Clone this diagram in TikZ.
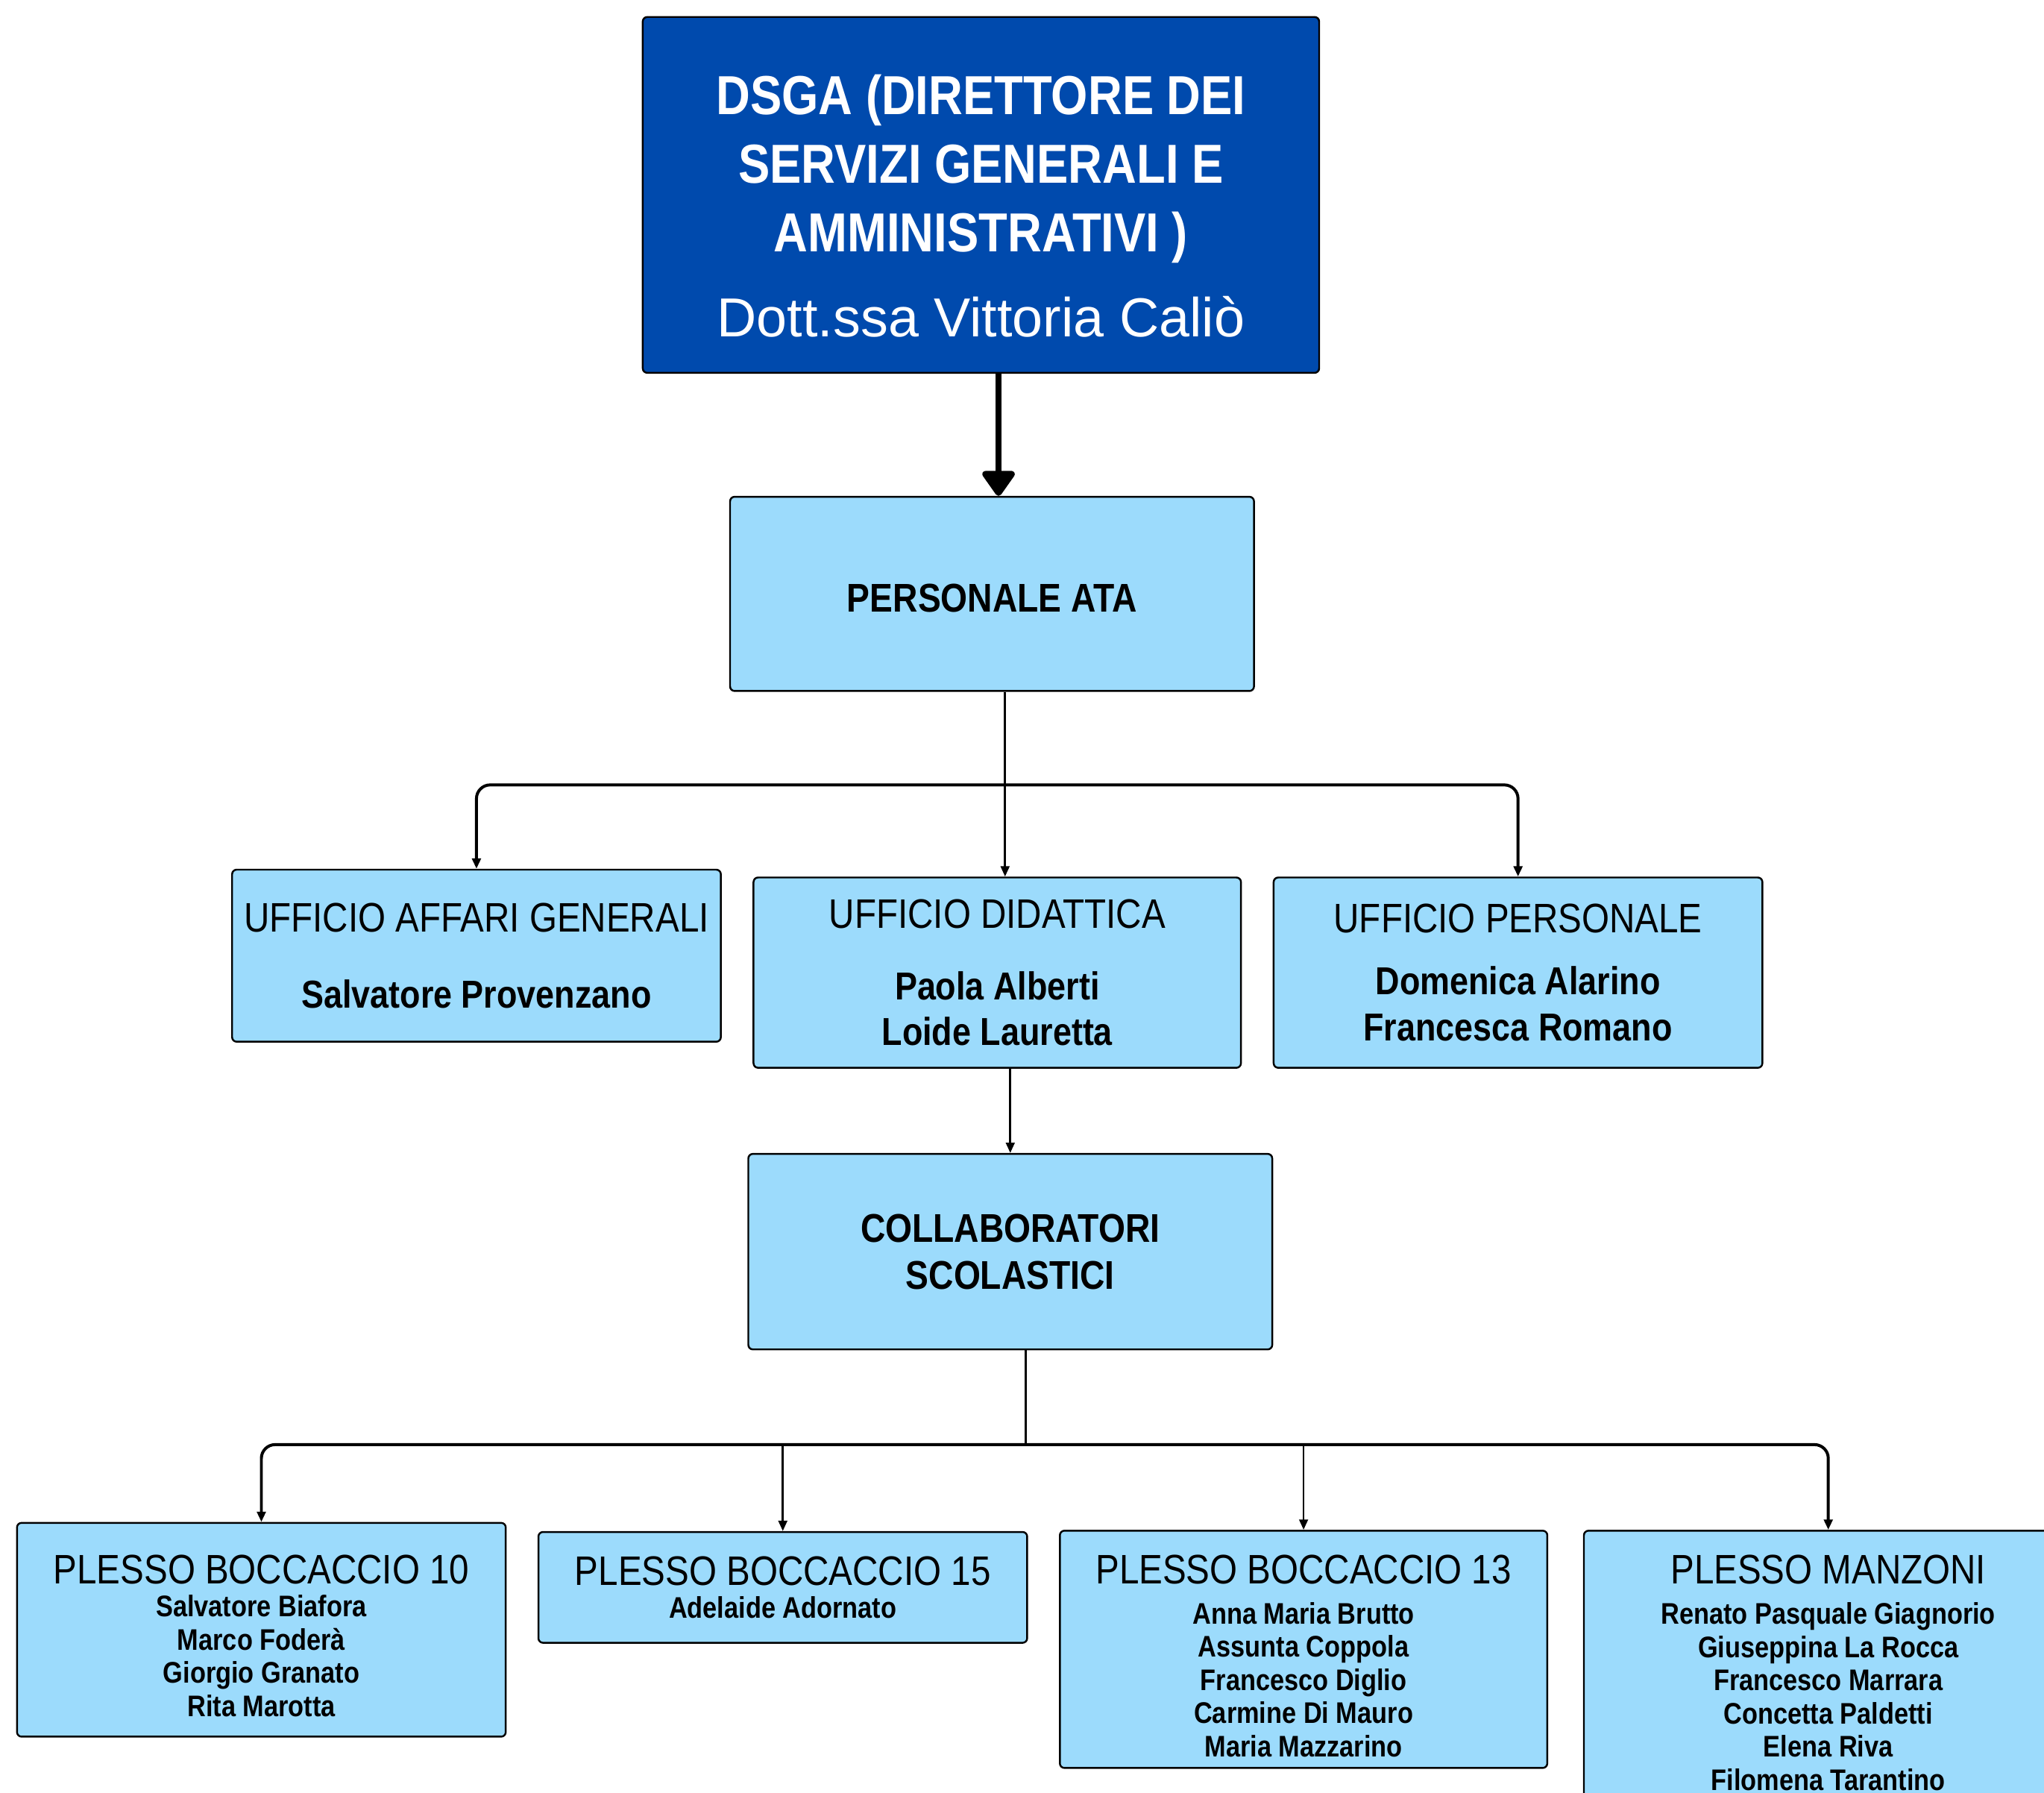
\documentclass[tikz,border=0pt]{standalone}
\usepackage{fontspec}
\setmainfont[FakeStretch=0.86]{Liberation Sans}
\newfontfamily\namefont{Liberation Sans}
\definecolor{dsgablue}{HTML}{004AAD}
\definecolor{boxlightblue}{HTML}{9CDBFC}
\usetikzlibrary{arrows.meta, calc}

\begin{document}
\begin{tikzpicture}[x=0.02cm, y=-0.02cm,
    box/.style={draw=black, line width=0.8pt, fill=boxlightblue,
      rounded corners=2pt, inner sep=0pt, align=center},
    link/.style={line width=0.9pt, -{Triangle[length=4.5pt, width=3.8pt]}},
    bar/.style={line width=1.3pt, rounded corners=6pt,
      {Triangle[length=4.5pt, width=3.8pt]}-{Triangle[length=4.5pt, width=3.8pt]}}]
        % Page
        \useasboundingbox (0,0) rectangle (1568,1375);
        \clip (0,0) rectangle (1568,1375);
        \fill[white] (0,0) rectangle (1568,1375);
        % Level 1: DSGA (dsgablue)
        \node[box, fill=dsgablue, text=white, minimum width=10.38cm,
          minimum height=5.46cm, font=\fontsize{24}{30}\selectfont\bfseries]
          (dsga) at (752.5, 149.5)
          {\rule{0pt}{27pt}DSGA (DIRETTORE DEI\\SERVIZI GENERALI E\\AMMINISTRATIVI )\\[7pt]
           {\namefont\mdseries\fontsize{24}{30}\selectfont Dott.ssa Vittoria Caliò}};
        % Level 2: Personale ATA
        \node[box, minimum width=8.04cm, minimum height=2.98cm,
          font=\fontsize{17.5}{20.5}\selectfont\bfseries]
          (ata) at (761, 455.5) {\rule{0pt}{16pt}PERSONALE ATA};
        % Arrow DSGA -> ATA
        \draw[line width=2.8pt, -{Triangle[length=12pt, width=16pt, round]}]
          ($(ata.north |- dsga.south)+(5,0)$) -- ($(ata.north)+(5,0)$);
        % Level 3: uffici
        \node[box, minimum width=7.5cm, minimum height=2.64cm,
          font=\fontsize{17}{20}\selectfont\bfseries]
          (uag) at (365.5, 733)
          {{\mdseries\fontsize{18}{20}\selectfont UFFICIO AFFARI GENERALI}\\[13pt]
           Salvatore Provenzano};
        \node[box, minimum width=7.48cm, minimum height=2.92cm,
          font=\fontsize{17}{20}\selectfont\bfseries]
          (ud) at (765, 746)
          {{\mdseries\fontsize{18}{20}\selectfont UFFICIO DIDATTICA}\\[11pt]
           Paola Alberti\\Loide Lauretta};
        \node[box, minimum width=7.5cm, minimum height=2.92cm,
          font=\fontsize{17}{20}\selectfont\bfseries]
          (up) at (1164.5, 746)
          {{\mdseries\fontsize{18}{20}\selectfont UFFICIO PERSONALE}\\[7pt]
           Domenica Alarino\\Francesca Romano};
        % Arrows ATA -> uffici
        \coordinate (fork1) at (771, 602);
        \draw[link] (ata.south -| fork1) -- (ud.north -| fork1);
        \draw[bar] (uag.north) |- (fork1) -| (up.north);
        % Level 4: collaboratori
        \node[box, minimum width=8.04cm, minimum height=3cm,
          font=\fontsize{17.5}{20.5}\selectfont\bfseries]
          (collab) at (775, 960) {COLLABORATORI\\SCOLASTICI};
        % Arrow didattica -> collaboratori
        \draw[link] (ud.south -| collab.north) -- (collab.north);
        % Level 5: plessi
        \node[box, minimum width=7.5cm, minimum height=3.28cm,
          font=\fontsize{13}{14.5}\selectfont\bfseries]
          (pb10) at (200.5, 1250)
          {\rule{0pt}{17.7pt}{\mdseries\fontsize{18}{20}\selectfont PLESSO BOCCACCIO 10}\\
           Salvatore Biafora\\Marco Foderà\\Giorgio Granato\\Rita Marotta};
        \node[box, minimum width=7.5cm, minimum height=1.7cm,
          font=\fontsize{13}{14.5}\selectfont\bfseries]
          (pb15) at (600.5, 1217.5)
          {{\mdseries\fontsize{18}{20}\selectfont PLESSO BOCCACCIO 15}\\
           Adelaide Adornato};
        \node[box, minimum width=7.48cm, minimum height=3.64cm,
          font=\fontsize{13}{14.5}\selectfont\bfseries]
          (pb13) at (1000, 1265)
          {\rule{0pt}{18.3pt}{\mdseries\fontsize{18}{20}\selectfont PLESSO BOCCACCIO 13}\\[3pt]
           Anna Maria Brutto\\Assunta Coppola\\Francesco Diglio\\
           Carmine Di Mauro\\Maria Mazzarino};
        \node[box, minimum width=7.5cm, minimum height=4.16cm,
          font=\fontsize{13}{14.5}\selectfont\bfseries]
          (pm) at (1402.5, 1278)
          {\rule{0pt}{18.3pt}{\mdseries\fontsize{18}{20}\selectfont PLESSO MANZONI}\\[3pt]
           Renato Pasquale Giagnorio\\Giuseppina La Rocca\\Francesco Marrara\\
           Concetta Paldetti\\Elena Riva\\Filomena Tarantino};
        % Arrows collaboratori -> plessi
        \coordinate (fork2) at (787, 1108);
        \draw[line width=0.9pt] (collab.south -| fork2) -- (fork2);
        \draw[bar] (pb10.north) |- (fork2) -| (pm.north);
        \draw[link] (pb15.north |- fork2) -- (pb15.north);
        \draw[link] (pb13.north |- fork2) -- (pb13.north);
\end{tikzpicture}
\end{document}
